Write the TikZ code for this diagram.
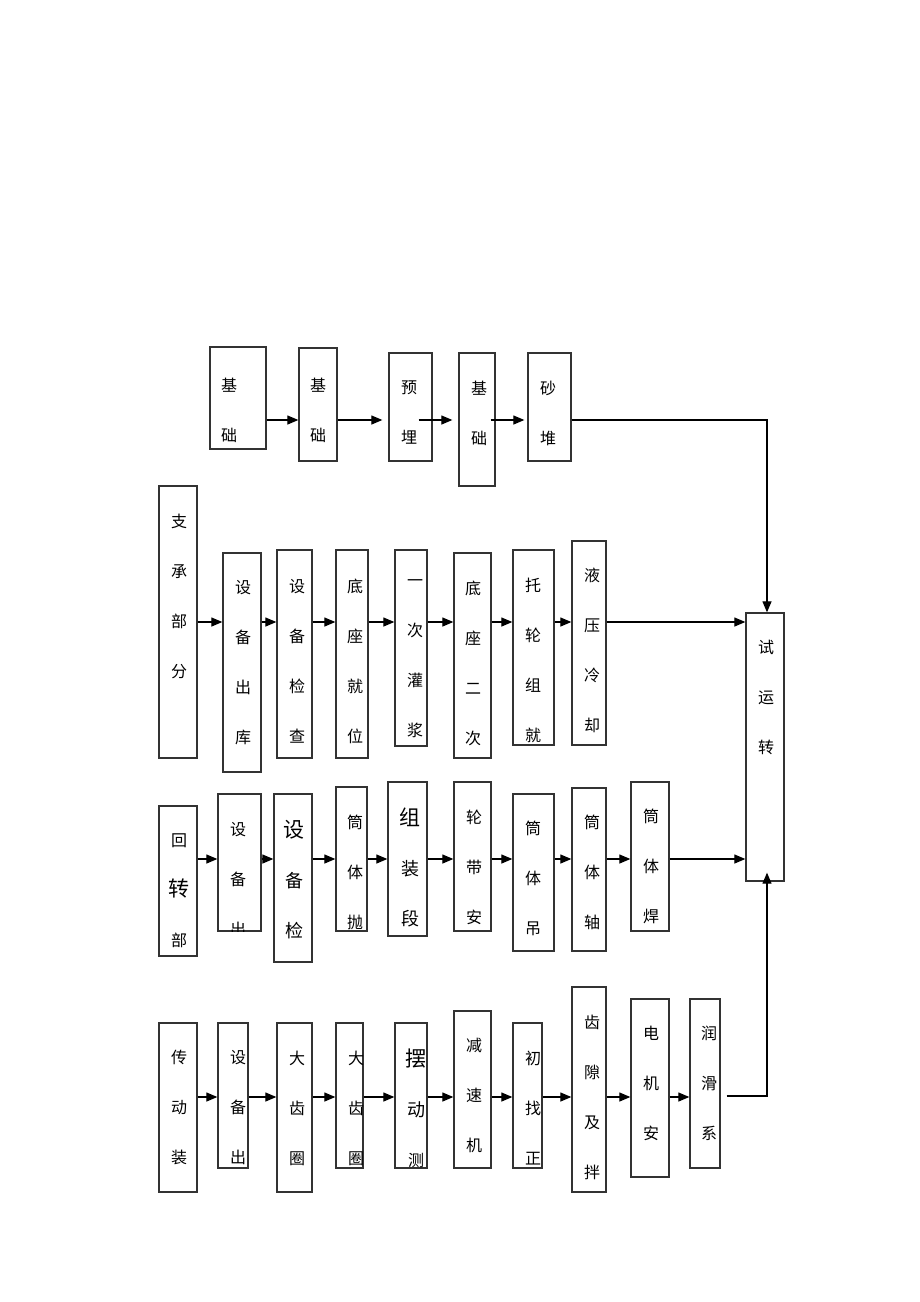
\documentclass[tikz,border=0pt]{standalone}
\usepackage{fontspec}
\newfontfamily\cjk{Noto Sans CJK SC}
\usetikzlibrary{arrows.meta,fit}
\newcommand{\bigzi}[1]{{\fontsize{21pt}{21pt}\selectfont #1}}
\newcommand{\midzi}[1]{{\fontsize{18pt}{18pt}\selectfont #1}}
\tikzset{
  box/.style={draw=black!80, line width=1.3pt, inner sep=0pt},
  txt/.style={font=\cjk\fontsize{16pt}{50pt}\selectfont, align=center, inner sep=0pt},
  flow/.style={-{Triangle[length=11pt,width=9pt]}, line width=1.2pt},
}
\begin{document}
\begin{tikzpicture}[x=1pt,y=-1pt]
    \useasboundingbox (0,0) rectangle (920,1302);
    % row heights of the arrows
    \coordinate (r1) at (0,420);
    \coordinate (r2) at (0,622);
    \coordinate (r3) at (0,859);
    \coordinate (r4) at (0,1097);
    \coordinate (k1) at (767,420);
    \coordinate (k2) at (767,1096);

    % test run box
    \node[box, fit={(746,613) (784,881)}] (t) {};
    \node[txt] (tt) at (766,697.5) {试\\运\\转};

    % foundation
    \node[box, fit={(210,347) (266,449)}] (a1) {};
    \node[box, fit={(299,348) (337,461)}] (a2) {};
    \node[box, fit={(389,353) (432,461)}] (a3) {};
    \node[box, fit={(459,353) (495,486)}] (a4) {};
    \node[box, fit={(528,353) (571,461)}] (a5) {};
    \node[txt] (a1t) at (229,410.5) {基\\础};
    \node[txt] (a2t) at (318,410.5) {基\\础};
    \node[txt] (a3t) at (409,413) {预\\埋};
    \node[txt] (a4t) at (479,413) {基\\础};
    \node[txt] (a5t) at (548,413) {砂\\堆};
    \draw[flow] (a1.east |- r1) -- (a2.west |- r1);
    \draw[flow, shorten >=6pt] (a2.east |- r1) -- (a3.west |- r1);
    \draw[flow, shorten <=-14pt, shorten >=6pt] (a3.east |- r1) -- (a4.west |- r1);
    \draw[flow, shorten <=-5pt, shorten >=3pt] (a4.east |- r1) -- (a5.west |- r1);
    \draw[flow] (a5.east |- k1) -- (k1) -- (k1 |- t.north);

    % support part
    \node[box, fit={(159,486) (197,758)}] (b0) {};
    \node[box, fit={(223,553) (261,772)}] (b1) {};
    \node[box, fit={(277,550) (312,758)}] (b2) {};
    \node[box, fit={(336,550) (368,758)}] (b3) {};
    \node[box, fit={(395,550) (427,746)}] (b4) {};
    \node[box, fit={(454,553) (491,758)}] (b5) {};
    \node[box, fit={(513,550) (554,745)}] (b6) {};
    \node[box, fit={(572,541) (606,745)}] (b7) {};
    \node[txt] (b0t) at (179,596) {支\\承\\部\\分};
    \node[txt] (b1t) at (243,662.5) {设\\备\\出\\库};
    \node[txt] (b2t) at (297,661.5) {设\\备\\检\\查};
    \node[txt] (b3t) at (355,661) {底\\座\\就\\位};
    \node[txt] (b4t) at (415,658.5) {一\\次\\灌\\浆};
    \node[txt] (b5t) at (473,663) {底\\座\\二\\次};
    \begin{scope}
      \clip (b6.north west) rectangle (b6.south east);
      \node[txt] (b6t) at (533,660) {托\\轮\\组\\就};
    \end{scope}
    \node[txt] (b7t) at (592,650) {液\\压\\冷\\却};
    \foreach \a/\b in {b0/b1,b1/b2,b2/b3,b3/b4,b4/b5,b5/b6,b6/b7,b7/t}
      \draw[flow] (\a.east |- r2) -- (\b.west |- r2);

    % rotary part
    \node[box, fit={(159,806) (197,956)}] (c0) {};
    \node[box, fit={(218,794) (261,931)}] (c1) {};
    \node[box, fit={(274,794) (312,962)}] (c2) {};
    \node[box, fit={(336,787) (367,931)}] (c3) {};
    \node[box, fit={(388,782) (427,936)}] (c4) {};
    \node[box, fit={(454,782) (491,931)}] (c5) {};
    \node[box, fit={(513,794) (554,951)}] (c6) {};
    \node[box, fit={(572,788) (606,951)}] (c7) {};
    \node[box, fit={(631,782) (669,931)}] (c8) {};
    \node[txt] (c0t) at (179,891) {回\\\bigzi{转}\\部};
    \begin{scope}
      \clip (c1.north west) rectangle (c1.south east);
      \node[txt] (c1t) at (238,880) {设\\备\\出};
    \end{scope}
    \node[txt] (c2t) at (294,879.5) {\bigzi{设}\\\midzi{备}\\\midzi{检}};
    \begin{scope}
      \clip (c3.north west) rectangle (c3.south east);
      \node[txt] (c3t) at (355,872.5) {筒\\体\\抛};
    \end{scope}
    \node[txt] (c4t) at (410,867.5) {\bigzi{组}\\\midzi{装}\\\midzi{段}};
    \node[txt] (c5t) at (474,867) {轮\\带\\安};
    \node[txt] (c6t) at (533,878.5) {筒\\体\\吊};
    \node[txt] (c7t) at (592,872.5) {筒\\体\\轴};
    \node[txt] (c8t) at (651,866.5) {筒\\体\\焊};
    \foreach \a/\b in {c0/c1,c1/c2,c2/c3,c3/c4,c4/c5,c5/c6,c6/c7,c7/c8,c8/t}
      \draw[flow] (\a.east |- r3) -- (\b.west |- r3);

    % drive part
    \node[box, fit={(159,1023) (197,1192)}] (d0) {};
    \node[box, fit={(218,1023) (248,1168)}] (d1) {};
    \node[box, fit={(277,1023) (312,1192)}] (d2) {};
    \node[box, fit={(336,1023) (363,1168)}] (d3) {};
    \node[box, fit={(395,1023) (427,1168)}] (d4) {};
    \node[box, fit={(454,1011) (491,1168)}] (d5) {};
    \node[box, fit={(513,1023) (542,1168)}] (d6) {};
    \node[box, fit={(572,987) (606,1192)}] (d7) {};
    \node[box, fit={(631,999) (669,1177)}] (d8) {};
    \node[box, fit={(690,999) (720,1168)}] (d9) {};
    \node[txt] (d0t) at (179,1107) {传\\动\\装};
    \begin{scope}
      \clip (d1.north west) rectangle (d1.south east);
      \node[txt] (d1t) at (238,1108) {设\\备\\出};
    \end{scope}
    \node[txt] (d2t) at (297,1108) {大\\齿\\圈};
    \begin{scope}
      \clip (d3.north west) rectangle (d3.south east);
      \node[txt] (d3t) at (356,1108) {大\\齿\\圈};
    \end{scope}
    \begin{scope}
      \clip (d4.north west) rectangle (d4.south east);
      \node[txt] (d4t) at (416,1108) {\bigzi{摆}\\\midzi{动}\\测};
    \end{scope}
    \node[txt] (d5t) at (474,1095) {减\\速\\机};
    \begin{scope}
      \clip (d6.north west) rectangle (d6.south east);
      \node[txt] (d6t) at (533,1108) {初\\找\\正};
    \end{scope}
    \node[txt] (d7t) at (592,1097) {齿\\隙\\及\\拌};
    \node[txt] (d8t) at (651,1083) {电\\机\\安};
    \node[txt] (d9t) at (709,1083) {润\\滑\\系};
    \foreach \a/\b in {d0/d1,d1/d2,d2/d3,d3/d4,d4/d5,d5/d6,d6/d7,d7/d8,d8/d9}
      \draw[flow] (\a.east |- r4) -- (\b.west |- r4);
    \draw[flow, shorten <=6pt, shorten >=-9pt] (d9.east |- k2) -- (k2) -- (k2 |- t.south);
\end{tikzpicture}
\end{document}
